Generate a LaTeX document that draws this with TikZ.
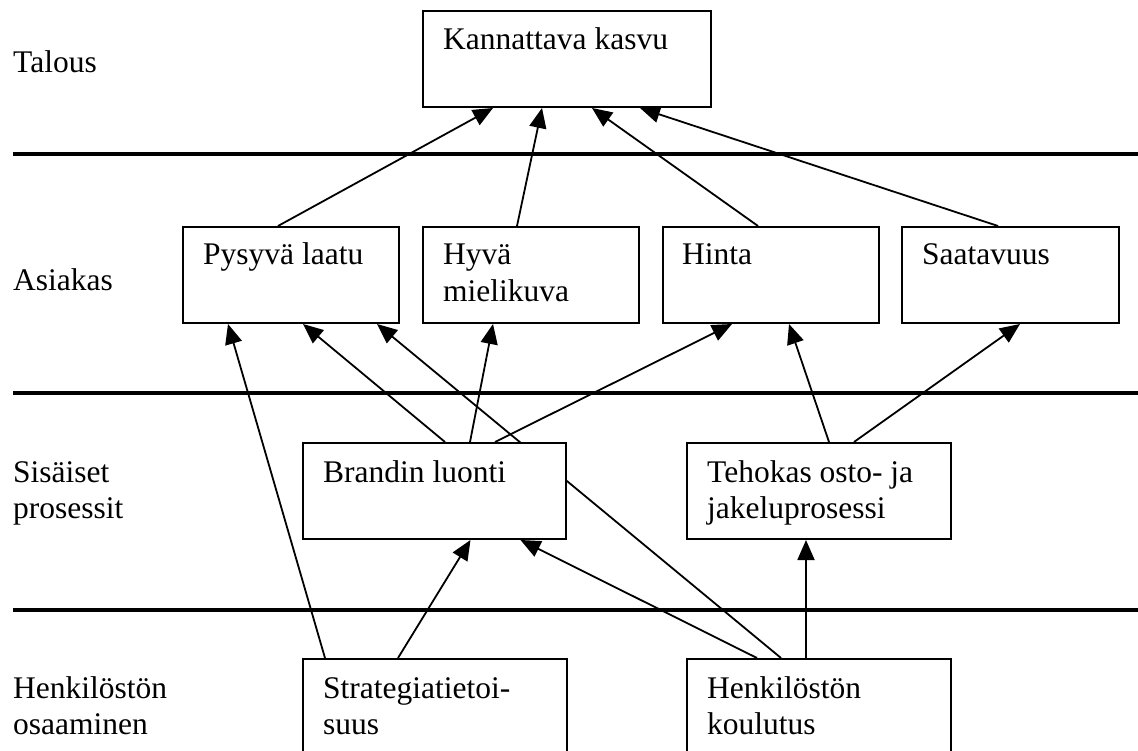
\documentclass[tikz,border=0pt]{standalone}
\usepackage{fontspec}
\setmainfont{Liberation Serif}
\usetikzlibrary{arrows.meta,backgrounds}
\begin{document}
\begin{tikzpicture}[x=1pt,y=-1pt,
  box/.style={draw,line width=2pt,fill=white,anchor=north west,inner sep=0pt,minimum height=96pt},
  txt/.style={font=\fontsize{31.5pt}{36.7pt}\selectfont,inner sep=0pt,anchor=base west,align=left},
  link/.style={line width=1.8pt,-{Triangle[length=20pt,width=17pt]}},
  sep/.style={line width=4pt}]
\useasboundingbox (0,0) rectangle (1138,751);

% level separators
\coordinate (s1a) at (13,154);  \coordinate (s1b) at (1138,154);
\coordinate (s2a) at (13,393);  \coordinate (s2b) at (1138,393);
\coordinate (s3a) at (13,610);  \coordinate (s3b) at (1138,610);
\draw[sep] (s1a) -- (s1b);
\draw[sep] (s2a) -- (s2b);
\draw[sep] (s3a) -- (s3b);

% perspective names (two-line nodes are placed by their last baseline)
\node[txt] (lt) at (13,73)    {Talous};
\node[txt] (la) at (13,291)   {Asiakas};
\node[txt] (ls) at (13,518.7) {Sisäiset\\prosessit};
\node[txt] (lh) at (13,734.7) {Henkilöstön\\osaaminen};

% goal boxes
\node[box,minimum width=288pt] (kk) at (422,10)  {};
\node[box,minimum width=216pt] (py) at (182,226) {};
\node[box,minimum width=216pt] (hy) at (422,226) {};
\node[box,minimum width=216pt] (hi) at (662,226) {};
\node[box,minimum width=217pt] (sa) at (901,226) {};
\node[box,minimum width=263pt] (br) at (302,442) {};
\node[box,minimum width=264pt] (te) at (686,442) {};
\node[box,minimum width=264pt,minimum height=100pt] (st) at (302,658) {};
\node[box,minimum width=264pt,minimum height=100pt] (hk) at (686,658) {};

% box texts
\node[txt] (tkk) at ([shift={(21,40)}]kk.north west)   {Kannattava kasvu};
\node[txt] (tpy) at ([shift={(21,39)}]py.north west)   {Pysyvä laatu};
\node[txt] (thy) at ([shift={(21,75.7)}]hy.north west) {Hyvä\\mielikuva};
\node[txt] (thi) at ([shift={(20,39)}]hi.north west)   {Hinta};
\node[txt] (tsa) at ([shift={(21,39)}]sa.north west)   {Saatavuus};
\node[txt] (tbr) at ([shift={(21,40)}]br.north west)   {Brandin luonti};
\node[txt] (tte) at ([shift={(21,76.7)}]te.north west) {Tehokas osto- ja\\jakeluprosessi};
\node[txt] (tst) at ([shift={(21,76.7)}]st.north west) {Strategiatietoi-\\suus};
\node[txt] (thk) at ([shift={(21,76.7)}]hk.north west) {Henkilöstön\\koulutus};

% cause-effect links, kept behind the boxes
\begin{pgfonlayer}{background}
\draw[link] ([xshift=96pt]py.north west)  -- ([xshift=71pt]kk.south west);
\draw[link] ([xshift=95pt]hy.north west)  -- ([xshift=120pt]kk.south west);
\draw[link] ([xshift=96pt]hi.north west)  -- ([xshift=170pt]kk.south west);
\draw[link] ([xshift=97pt]sa.north west)  -- ([xshift=218pt]kk.south west);

\draw[link] ([xshift=143pt]br.north west) -- ([xshift=121pt]py.south west);
\draw[link] ([xshift=168pt]br.north west) -- ([xshift=71pt]hy.south west);
\draw[link] ([xshift=193pt]br.north west) -- ([xshift=70pt]hi.south west);

\draw[link] ([xshift=143pt]te.north west) -- ([xshift=127pt]hi.south west);
\draw[link] ([xshift=168pt]te.north west) -- ([xshift=119pt]sa.south west);

\draw[link] ([xshift=23pt]st.north west)  -- ([xshift=46pt]py.south west);
\draw[link] ([xshift=96pt]st.north west)  -- ([xshift=168.5pt]br.south west);

\draw[link] ([xshift=71pt]hk.north west)  -- ([xshift=218.5pt]br.south west);
\draw[link] ([xshift=95pt]hk.north west)  -- ([xshift=195pt]py.south west);
\draw[link] ([xshift=120pt]hk.north west) -- ([xshift=120pt]te.south west);
\end{pgfonlayer}
\end{tikzpicture}
\end{document}
